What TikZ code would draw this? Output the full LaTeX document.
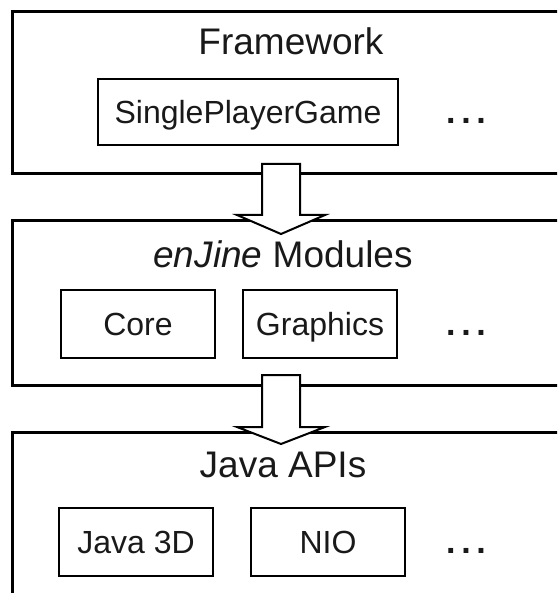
\documentclass[tikz,border=0pt]{standalone}
\usepackage{fontspec}
\setmainfont{Liberation Sans}
\usepackage{tikz}
\usetikzlibrary{positioning, calc}
\tikzset{
  capa/.style={rectangle, draw, line width=3pt, anchor=north west,
    minimum width=550pt, inner sep=0pt, outer sep=0pt},
  titulo/.style={font=\fontsize{37}{40}\selectfont, anchor=base,
    inner sep=0pt, text=black!90},
  modulo/.style={rectangle, draw, line width=2.6pt, minimum width=154pt,
    minimum height=68pt, inner sep=0pt, outer sep=0pt,
    font=\fontsize{32}{34}\selectfont, text height=23pt, text depth=0pt,
    text=black!90},
  puntos/.style={font=\fontsize{34}{36}\selectfont\bfseries, anchor=base,
    inner sep=0pt, text=black!90},
  bloque/.style={draw, fill=white, line width=2pt, line join=miter}
}
\begin{document}
\begin{tikzpicture}[x=1pt, y=1pt]
  \useasboundingbox (0,0) rectangle (557,-593);
  \clip (0,0) rectangle (557,-593);
  % capas
  \node[capa, minimum height=162pt] (framework) at (12,-12) {};
  \node[capa, minimum height=164pt] (modules) at (12,-221) {};
  \node[capa, minimum height=175pt] (apis) at (12,-432) {};
  \node[titulo] (tframework) at (291,-55) {Framework};
  \node[titulo] (tmodules) at (283,-267) {\textit{enJine} Modules};
  \node[titulo] (tapis) at (283,-477) {Java APIs};
  % modulos
  \node[modulo, anchor=north west, minimum width=300pt, minimum height=66pt]
    (spg) at (98,-79) {SinglePlayerGame};
  \node[modulo, anchor=north west] (core) at (61,-290) {Core};
  \node[modulo, right=28pt of core] (graphics) {Graphics};
  \node[modulo, anchor=north west] (java3d) at (59,-508) {Java 3D};
  \node[modulo, right=38pt of java3d] (nio) {NIO};
  \node[puntos] (p1) at (466,0 |- spg.base) {.\,.\,.};
  \node[puntos] (p2) at (466,0 |- graphics.base) {.\,.\,.};
  \node[puntos] (p3) at (466,0 |- nio.base) {.\,.\,.};
  % flechas
  \draw[bloque] ($(281,0 |- framework.south)+(-19,10)$) -- ++(38,0)
    -- ($(281,0 |- modules.north)+(19,6)$) -- ++(25,0)
    -- ($(281,0 |- modules.north)+(0,-13)$)
    -- ($(281,0 |- modules.north)+(-44,6)$) -- ++(25,0) -- cycle;
  \draw[bloque] ($(281,0 |- modules.south)+(-19,10)$) -- ++(38,0)
    -- ($(281,0 |- apis.north)+(19,5)$) -- ++(25,0)
    -- ($(281,0 |- apis.north)+(0,-12)$)
    -- ($(281,0 |- apis.north)+(-44,5)$) -- ++(25,0) -- cycle;
\end{tikzpicture}
\end{document}
